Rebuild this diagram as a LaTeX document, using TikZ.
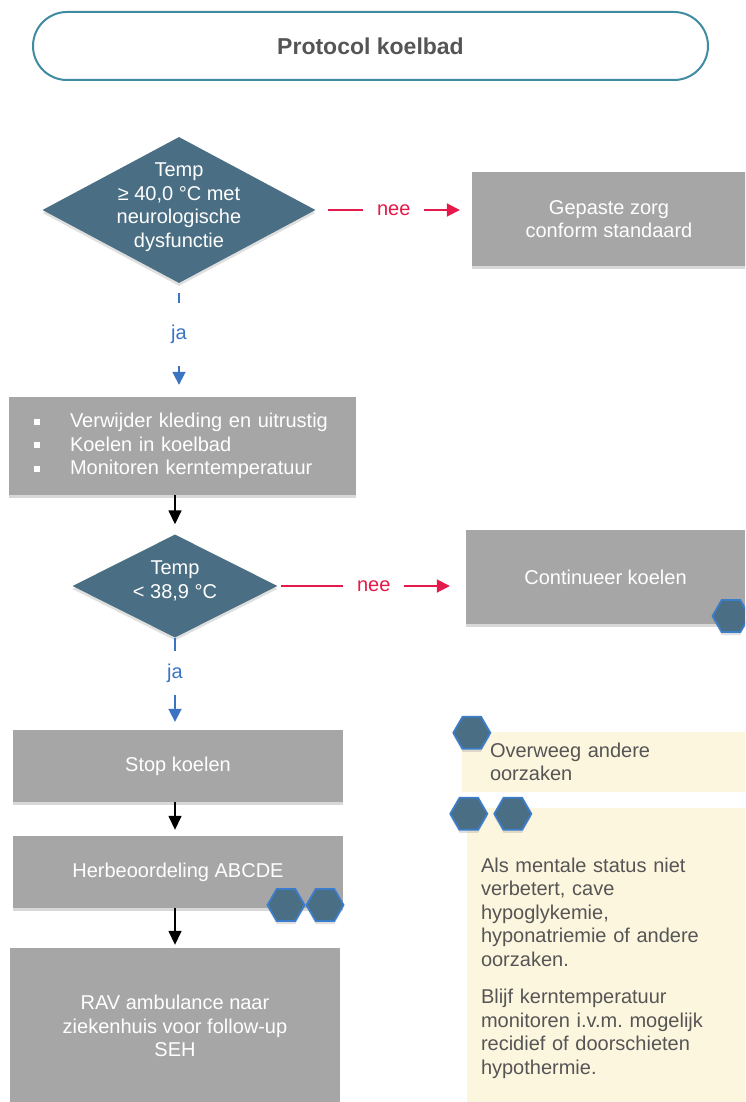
\documentclass[tikz,border=0pt]{standalone}
\usepackage{fontspec}
\setmainfont{Liberation Sans}
\usetikzlibrary{positioning,calc,shapes.geometric,arrows.meta,shadows}

\definecolor{boxgray}{HTML}{A6A6A6}
\definecolor{decblue}{HTML}{4A6E83}
\definecolor{hexblue}{HTML}{3C7DCB}
\definecolor{notecream}{HTML}{FDF6DF}
\definecolor{neered}{HTML}{E5194A}
\definecolor{jablue}{HTML}{3A74C2}
\definecolor{titleteal}{HTML}{3F8BA1}
\definecolor{txtgray}{HTML}{555555}

\frenchspacing
\newcommand{\flowfont}{\fontsize{20}{23.5}\selectfont}
\newcommand{\sqbullet}{\rule[3pt]{6pt}{6pt}\hspace{30pt}}

\tikzset{
  titel/.style={rectangle, rounded corners=34pt, draw=titleteal, line width=2pt,
    minimum width=675pt, minimum height=68pt, text=txtgray,
    font=\fontsize{23}{27}\selectfont\bfseries},
  box/.style={rectangle, fill=boxgray, text=white, align=center, inner sep=0pt,
    font=\flowfont, drop shadow={opacity=0.3, shadow xshift=0pt, shadow yshift=-3pt}},
  decision/.style={diamond, fill=decblue, inner sep=0pt,
    drop shadow={opacity=0.25, shadow xshift=0pt, shadow yshift=-3pt}},
  dectext/.style={text=white, align=center, font=\flowfont},
  hexa/.style={regular polygon, regular polygon sides=6, minimum size=37pt,
    inner sep=0pt, fill=decblue, draw=hexblue, line width=1.8pt,
    drop shadow={opacity=0.25, shadow xshift=0pt, shadow yshift=-3pt}},
  note/.style={rectangle, fill=notecream, text=txtgray, align=left, font=\flowfont},
  nee/.style={draw=neered, line width=1.8pt, -{Triangle[length=13pt,width=13pt]}},
  neelabel/.style={fill=white, text=neered, inner xsep=14pt, font=\flowfont},
  ja/.style={draw=jablue, line width=1.8pt, -{Triangle[length=13pt,width=13pt]}},
  jalabel/.style={fill=white, text=jablue, font=\flowfont},
  flow/.style={draw=black, line width=1.5pt, -{Triangle[length=14pt,width=13pt]}}
}

\begin{document}
\begin{tikzpicture}[x=1pt,y=-1pt]
\clip (0,0) rectangle (745,1102);
\fill[white] (0,0) rectangle (745,1102);

% titel
\node[titel] (titel) at (370.5,46) {Protocol koelbad};

% eerste beslissing
\node[decision, minimum width=273pt, minimum height=146pt] (temp1) at (179,210) {};
\node[dectext] at ($(temp1)+(0,-3)$) {Temp\\≥ 40,0 °C met\\neurologische\\dysfunctie};
\node[box, minimum width=274pt, minimum height=94pt] (gepast) at (609,219) {Gepaste zorg\\conform standaard};

\node[box, minimum width=347pt, minimum height=98pt, align=left, text width=297pt, inner xsep=25pt] (acties) at (182.5,446)
  {\sqbullet Verwijder kleding en uitrustig\\\sqbullet Koelen in koelbad\\\sqbullet Monitoren kerntemperatuur};

% tweede beslissing
\node[decision, minimum width=205pt, minimum height=103pt] (temp2) at (175,586) {};
\node[dectext] at ($(temp2)+(0,-5)$) {Temp\\< 38,9 °C};
\node[box, minimum width=279pt, minimum height=94pt] (continueer) at (605.5,577) {Continueer koelen};
\node[hexa] (hexc) at (731,616) {};

\node[box, minimum width=330pt, minimum height=72pt] (stop) at (178,766) {Stop koelen};
\node[box, minimum width=330pt, minimum height=72pt] (herbeoordeling) at (178,872) {Herbeoordeling ABCDE};
\node[hexa] (hexh1) at (286,905) {};
\node[hexa] (hexh2) at (325,905) {};
\node[box, minimum width=330pt, minimum height=156pt] (rav) at (175,1026) {RAV ambulance naar\\ziekenhuis voor follow-up\\SEH};

% notities
\node[note, text width=240pt, inner xsep=28pt, minimum height=60pt] (overweeg) at (610,762) {Overweeg andere\\oorzaken};
\node[hexa] (hexo) at ($(overweeg.north west)+(10,1)$) {};
\node[note, text width=265pt, inner xsep=14pt, minimum height=320pt] (mentaal) at (613.5,968)
  {Als mentale status niet\\verbetert, cave\\hypoglykemie,\\hyponatriemie of andere\\oorzaken.\\[14pt]Blijf kerntemperatuur\\monitoren i.v.m. mogelijk\\recidief of doorschieten\\hypothermie.};
\node[hexa] (hexm1) at ($(mentaal.north west)+(2,6)$) {};
\node[hexa] (hexm2) at ($(mentaal.north west)+(46,6)$) {};

% verbindingen
\draw[nee] ($(temp1.east)+(12,0)$) -- node[neelabel]{nee} ($(temp1.east -| gepast.west)+(-12,0)$);
\draw[ja] ($(temp1.south)+(0,10)$) -- node[jalabel, inner ysep=22pt, pos=0.45]{ja} ($(temp1.south |- acties.north)+(0,-12)$);
\draw[flow] (temp2.north |- acties.south) -- ($(temp2.north)+(0,-10)$);
\draw[nee] ($(temp2.east)+(3,0)$) -- node[neelabel, pos=0.55]{nee} ($(temp2.east -| continueer.west)+(-16,0)$);
\draw[ja] (temp2.south) -- node[jalabel, inner ysep=13pt, pos=0.42]{ja} ($(temp2.south |- stop.north)+(0,-8)$);
\draw[flow] (temp2.south |- stop.south) -- ($(temp2.south |- herbeoordeling.north)+(0,-6)$);
\draw[flow] (temp2.south |- herbeoordeling.south) -- ($(temp2.south |- rav.north)+(0,-3)$);
\end{tikzpicture}
\end{document}
